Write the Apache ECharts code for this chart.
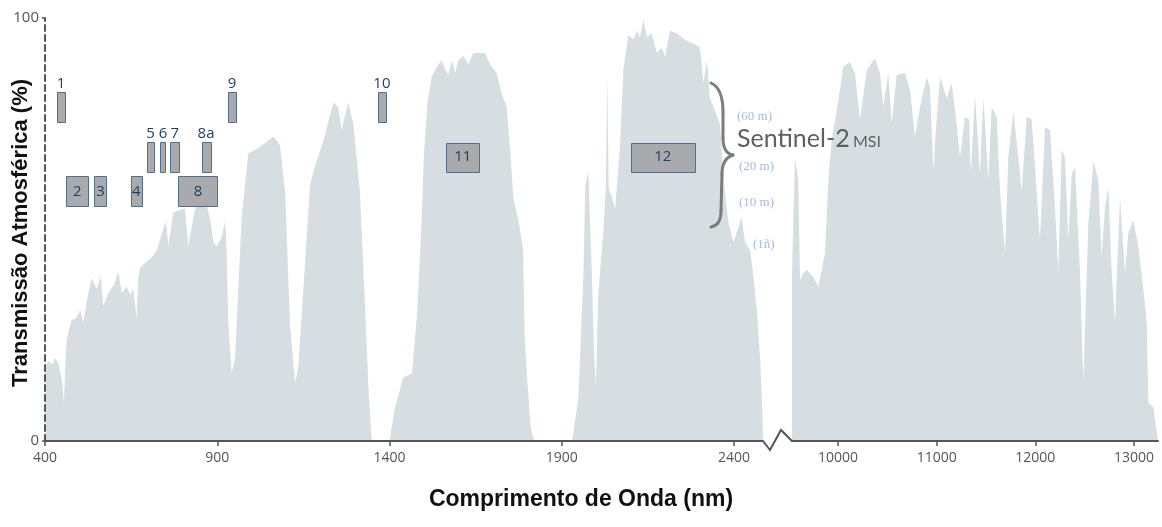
<!DOCTYPE html>
<html>
<head>
<meta charset="utf-8">
<script src="https://cdn.jsdelivr.net/npm/echarts@6/dist/echarts.min.js"></script>
<style>
html,body{margin:0;padding:0;background:#fff;}
#c{width:1162px;height:527px;}
</style>
</head>
<body>
<div id="c"></div>
<script>
// ---- Data: atmospheric transmission, visible / near-infrared segment (nm, %)
const visNm = [400,410,420,430,440,450,455,460,463,477,490,502,511,521,535,550,562,569,584,600,613,623,637,647,656,666,670,676,705,724,739,751,758,772,806,816,831,840,869,880,889,898,912,923,927,932,942,952,961,971,990,1024,1063,1082,1097,1111,1126,1135,1150,1169,1184,1208,1237,1251,1261,1280,1295,1314,1329,1339,1348,1352,1400,1402,1416,1440,1465,1480,1492,1500,1510,1522,1537,1552,1561,1571,1581,1590,1600,1614,1629,1643,1677,1692,1711,1726,1740,1750,1760,1775,1788,1792,1800,1810,1820,1930,1934,1948,1963,1968,1977,1987,1994,1999,2006,2021,2028,2032,2036,2055,2069,2079,2093,2108,2118,2127,2137,2147,2161,2176,2190,2200,2214,2234,2258,2282,2301,2311,2321,2330,2345,2359,2369,2384,2398,2413,2422,2432,2447,2456,2466,2476,2482,2484];
const visT  = [17.5,19,18,19.6,18,14,9,20,24,28.6,29,31,28,33,38.5,36,39,32,35,37,40,35,36.5,34.5,36,29,38,41,43,45,49,52,46,54,55,46,53,56,56,52,47,46,48,52,45,28,16,20,36,53,68,69.5,72,70,59,28,13.7,17.5,36,60.5,65,71,80,79,73.5,80,75,59,32,12,0.5,0,0,0,8,15,16,30,50,68,80,86,88.5,90,88,86.5,90,87,90,91,89,91.7,91.7,89,87,82,79,69,57,52,45,25,14,3,0,0,0,10,40,60,64,40,20,13,35,50,60,87,60,55,70,88,96,95,97,95.5,99.5,95.5,96.4,91.7,93,90.8,97,96.4,94.8,94,93,84.6,90,81,78,75,62,51.5,47,50.6,53,47,45,39,31,19,7,0];

// ---- Data: thermal infrared segment (nm, %)
const irNm = [9534,9564,9598,9615,9648,9683,9750,9800,9868,9902,9936,10020,10054,10122,10172,10223,10291,10375,10426,10459,10510,10544,10595,10679,10730,10780,10831,10899,10932,10966,11000,11034,11067,11101,11152,11203,11236,11287,11330,11345,11388,11439,11473,11524,11557,11608,11642,11693,11726,11777,11828,11862,11912,11963,12014,12047,12098,12149,12199,12233,12267,12301,12334,12368,12402,12453,12486,12537,12588,12638,12672,12706,12740,12774,12807,12858,12909,12942,12993,13044,13095,13129,13146,13196,13243];
const irT  = [39.7,67,61.7,38,39.7,40.4,38.8,36.4,44.4,61.7,71,83,88.5,89.6,87,75.9,87.7,90.5,87,79,87,75,86.5,87,83,71.9,79,86,83.7,64,76,86,83.7,81,84.6,75,67,76.6,76,63,81.8,63,81.3,61.7,79,76.6,59,44.4,67,78,67,59,76.6,76,59,47.5,74.2,73.5,55.3,39.7,68.8,67,47.5,63,64.8,39.7,13.7,51.5,66,61.7,43.5,55.3,60,39.7,27.9,57.7,39.7,49.2,52.2,45.9,35.7,27.9,9,8,0];

// ---- Tick labels
const visTicks = [400,900,1400,1900,2400];
const irTicks  = [10000,11000,12000,13000];
const yTicks   = [0,100];

// ---- Sentinel-2 MSI bands (nm range, transmission range in % used as drawing level)
const bandNames = ['1','2','3','4','5','6','7','8','8a','9','10','11','12'];
const bandStart = [435,461,543,649,697,735,764,787,855,932,1366,1564,2100];
const bandEnd   = [458,526,579,681,716,750,790,901,880,954,1390,1661,2286];
const bandLow   = [75.3,55.4,55.4,55.4,63.6,63.6,63.6,55.4,63.6,75.3,75.3,63.7,63.7];
const bandHigh  = [82.4,62.6,62.6,62.6,70.6,70.6,70.6,62.6,70.6,82.4,82.4,70.5,70.5];

const resLabels = ['(60 m)','(20 m)','(10 m)','(1ñ)'];

const FONT = '"Open Sans", "Noto Sans", sans-serif';
const AX = '#555';

const chart = echarts.init(document.getElementById('c'), null, {renderer: 'canvas'});

function xAxisCfg(grid, min, max, ticks) {
  return {
    type: 'value', gridIndex: grid, min: min, max: max, z: 5,
    axisLine: {show: true, onZero: false, lineStyle: {color: AX, width: 2}},
    axisTick: {show: true, customValues: ticks, length: 5, lineStyle: {color: AX, width: 1.5}},
    axisLabel: {show: true, customValues: ticks, color: '#555', fontSize: 14, fontFamily: FONT, margin: 10,
                formatter: function (v) { return String(v); }},
    splitLine: {show: false}
  };
}

const option = {
  animation: false,
  backgroundColor: '#fff',
  grid: [
    {left: 45, top: 18, width: 718, height: 423},
    {left: 792, top: 18, width: 366, height: 423}
  ],
  xAxis: [
    xAxisCfg(0, 400, 2484, visTicks),
    xAxisCfg(1, 9534, 13243, irTicks)
  ],
  yAxis: [
    {
      type: 'value', gridIndex: 0, min: 0, max: 100, z: 5,
      axisLine: {show: true, lineStyle: {color: AX, width: 2, type: [6, 4]}},
      axisTick: {show: true, customValues: yTicks, length: 3, lineStyle: {color: AX, width: 1.5}},
      axisLabel: {show: true, customValues: yTicks, color: '#555', fontSize: 15, fontFamily: FONT, margin: 6,
                  formatter: function (v) { return String(v); }},
      splitLine: {show: false}
    },
    {type: 'value', gridIndex: 1, min: 0, max: 100, show: false, splitLine: {show: false}}
  ],
  series: [
    {
      type: 'line', xAxisIndex: 0, yAxisIndex: 0, z: 1,
      data: visNm.map((x, i) => [x, visT[i]]),
      symbol: 'none', smooth: false,
      lineStyle: {width: 0, opacity: 0},
      areaStyle: {color: '#d6dee2', opacity: 1}
    },
    {
      type: 'line', xAxisIndex: 1, yAxisIndex: 1, z: 1,
      data: irNm.map((x, i) => [x, irT[i]]),
      symbol: 'none', smooth: false,
      lineStyle: {width: 0, opacity: 0},
      areaStyle: {color: '#d6dee2', opacity: 1}
    },
    {
      type: 'custom', xAxisIndex: 0, yAxisIndex: 0, z: 4, clip: false,
      data: bandNames.map((n, i) => [bandStart[i], bandEnd[i], bandLow[i], bandHigh[i]]),
      encode: {x: [0, 1], y: [2, 3]},
      renderItem: function (params, api) {
        const s = api.value(0), e = api.value(1), lo = api.value(2), hi = api.value(3);
        const p0 = api.coord([s, hi]);
        const p1 = api.coord([e, lo]);
        const name = bandNames[params.dataIndex];
        const inside = (e - s) >= 30;
        return {
          type: 'group',
          children: [
            {
              type: 'rect',
              shape: {x: Math.round(p0[0]) + 0.5, y: Math.round(p0[1]) + 0.5,
                      width: Math.round(p1[0] - p0[0]), height: Math.round(p1[1] - p0[1])},
              style: {fill: '#a8aaad', stroke: '#566d8a', lineWidth: 1}
            },
            {
              type: 'text',
              style: {
                text: name,
                x: (p0[0] + p1[0]) / 2,
                y: inside ? (p0[1] + p1[1]) / 2 : p0[1] - 1,
                align: 'center',
                verticalAlign: inside ? 'middle' : 'bottom',
                fill: '#213f66',
                font: '15px "Open Sans", "Noto Sans", sans-serif'
              }
            }
          ]
        };
      }
    }
  ]
};

chart.setOption(option);

// Axis-break zigzag and annotations
const pL = chart.convertToPixel({xAxisIndex: 0, yAxisIndex: 0}, [2484, 0]);
const pR = chart.convertToPixel({xAxisIndex: 1, yAxisIndex: 1}, [9534, 0]);

const braceStyle = {stroke: '#7d7d7d', lineWidth: 3, fill: null, lineCap: 'round'};
function bez(a, b, c, d) {
  return {type: 'bezierCurve', z: 20,
          shape: {x1: a[0], y1: a[1], cpx1: b[0], cpy1: b[1], cpx2: c[0], cpy2: c[1], x2: d[0], y2: d[1]},
          style: braceStyle};
}
function seg(a, b) {
  return {type: 'line', z: 20, shape: {x1: a[0], y1: a[1], x2: b[0], y2: b[1]}, style: braceStyle};
}
function txt(x, y, text, font, fill, align) {
  return {type: 'text', z: 20, x: x, y: y,
          style: {text: text, font: font, fill: fill, align: align || 'left', verticalAlign: 'middle'}};
}

const resFont = '13px "Liberation Serif", serif';
const resColor = '#a3bbdb';

const graphics = [
  {
    type: 'polyline', z: 20,
    shape: {points: [pL, [pL[0] + 7, pL[1] + 9], [pL[0] + 18, pL[1] - 11], pR]},
    style: {stroke: AX, lineWidth: 2, fill: null}
  },
  bez([711, 83], [720, 87], [723, 98], [723, 112]),
  seg([723, 112], [723, 138]),
  bez([723, 138], [723, 149], [727, 154], [733, 155]),
  bez([733, 155], [727, 157], [722, 162], [722, 174]),
  seg([722, 174], [721, 210]),
  bez([721, 210], [721, 221], [718, 225], [711, 227]),
  txt(737, 139, 'Sentinel-2', '25px Lato, "Open Sans", sans-serif', '#5f5f5f'),
  txt(853, 142, 'MSI', '16px Lato, "Open Sans", sans-serif', '#5f5f5f'),
  txt(737, 117, resLabels[0], resFont, resColor),
  txt(739, 167, resLabels[1], resFont, resColor),
  txt(739, 203, resLabels[2], resFont, resColor),
  txt(753, 245, resLabels[3], resFont, resColor),
  txt(581, 500, 'Comprimento de Onda (nm)', 'bold 23px "Liberation Sans", Arial, sans-serif', '#111', 'center'),
  {
    type: 'text', z: 20, x: 21, y: 233, rotation: Math.PI / 2,
    style: {text: 'Transmissão Atmosférica (%)', font: 'bold 22px "Liberation Sans", Arial, sans-serif',
            fill: '#111', align: 'center', verticalAlign: 'middle'}
  }
];
chart.setOption({graphic: graphics});
</script>
</body>
</html>
